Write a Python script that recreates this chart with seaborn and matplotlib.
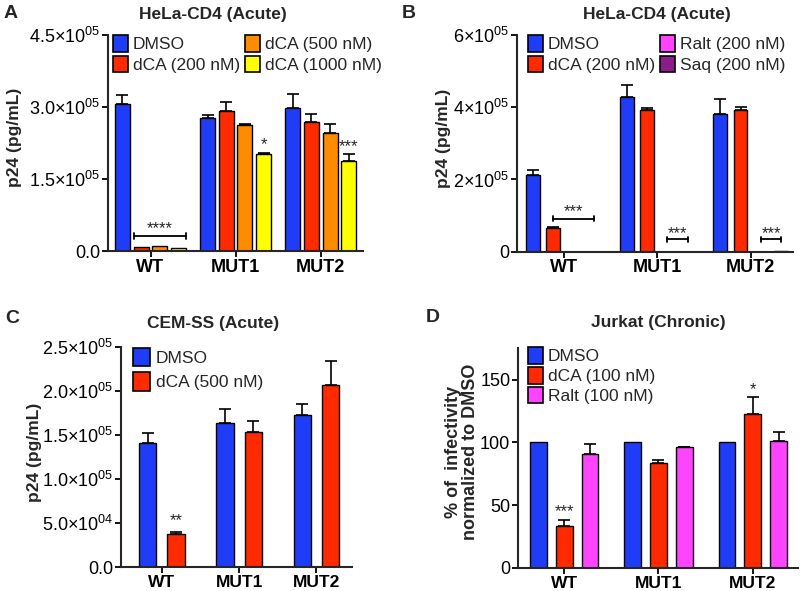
import matplotlib
matplotlib.use("Agg")
import matplotlib.pyplot as plt
from matplotlib.patches import Patch
import seaborn as sns
import pandas as pd

# ---------------- data ----------------
groups = ["WT", "MUT1", "MUT2"]

a_treat = ["DMSO", "dCA (200 nM)", "dCA (500 nM)", "dCA (1000 nM)"]
a_dmso = [3.06e5, 2.77e5, 2.98e5]
a_dca200 = [0.08e5, 2.92e5, 2.68e5]
a_dca500 = [0.10e5, 2.63e5, 2.45e5]
a_dca1000 = [0.07e5, 2.03e5, 1.885e5]
a_err_dmso = [0.19e5, 0.06e5, 0.30e5]
a_err_dca200 = [0.0, 0.18e5, 0.17e5]
a_err_dca500 = [0.0, 0.01e5, 0.20e5]
a_err_dca1000 = [0.0, 0.02e5, 0.13e5]

b_treat = ["DMSO", "dCA (200 nM)", "Ralt (200 nM)", "Saq (200 nM)"]
b_dmso = [2.13e5, 4.27e5, 3.81e5]
b_dca = [0.65e5, 3.91e5, 3.91e5]
b_ralt = [0.0, 0.0, 0.0]
b_saq = [0.0, 0.0, 0.01e5]
b_err_dmso = [0.12e5, 0.33e5, 0.41e5]
b_err_dca = [0.03e5, 0.06e5, 0.09e5]
b_err_ralt = [0.0, 0.0, 0.0]
b_err_saq = [0.0, 0.0, 0.0]

c_treat = ["DMSO", "dCA (500 nM)"]
c_dmso = [1.413e5, 1.634e5, 1.725e5]
c_dca = [0.372e5, 1.535e5, 2.063e5]
c_err_dmso = [0.107e5, 0.156e5, 0.125e5]
c_err_dca = [0.028e5, 0.125e5, 0.277e5]

d_treat = ["DMSO", "dCA (100 nM)", "Ralt (100 nM)"]
d_dmso = [100, 100, 100]
d_dca = [33.3, 83.4, 122.5]
d_ralt = [90.8, 95.9, 101.4]
d_err_dmso = [0, 0, 0]
d_err_dca = [4.5, 2.2, 13.5]
d_err_ralt = [8.0, 0.7, 6.9]

a_ticks = [0, 1.5e5, 3.0e5, 4.5e5]
a_ticklabels = ["0.0", "1.5$\\times$10$^{05}$", "3.0$\\times$10$^{05}$", "4.5$\\times$10$^{05}$"]
b_ticks = [0, 2e5, 4e5, 6e5]
b_ticklabels = ["0", "2$\\times$10$^{05}$", "4$\\times$10$^{05}$", "6$\\times$10$^{05}$"]
c_ticks = [0, 0.5e5, 1.0e5, 1.5e5, 2.0e5, 2.5e5]
c_ticklabels = ["0.0", "5.0$\\times$10$^{04}$", "1.0$\\times$10$^{05}$", "1.5$\\times$10$^{05}$",
                "2.0$\\times$10$^{05}$", "2.5$\\times$10$^{05}$"]
d_ticks = [0, 50, 100, 150]
d_ticklabels = ["0", "50", "100", "150"]

BLUE = "#1F3DF7"
RED = "#FF2A00"
ORANGE = "#FF8C00"
YELLOW = "#FFFF00"
PINK = "#FF44FF"
PURPLE = "#8C1C8C"

# ---------------- style ----------------
sns.set_theme(style="ticks")
plt.rcParams["font.family"] = ["Liberation Sans", "DejaVu Sans"]
plt.rcParams["mathtext.fontset"] = "custom"
plt.rcParams["mathtext.rm"] = "Liberation Sans"
plt.rcParams["mathtext.it"] = "Liberation Sans:italic"
plt.rcParams["mathtext.bf"] = "Liberation Sans:bold"
plt.rcParams["axes.linewidth"] = 1.5

fig = plt.figure(figsize=(8, 5.91), dpi=100)
W, H = 800.0, 591.0


def long_df(treats, vals, errs):
    rows = []
    for t, v, e in zip(treats, vals, errs):
        for g, vv, ee in zip(groups, v, e):
            rows.append({"group": g, "treat": t, "value": vv, "err": ee})
    return pd.DataFrame(rows)


def panel(rect, treats, vals, errs, colors, width, gap, xlim, ylim, ticks, ticklabels, xsize=13):
    ax = fig.add_axes(rect)
    df = long_df(treats, vals, errs)
    sns.barplot(data=df, x="group", y="value", hue="treat", order=groups,
                hue_order=treats, palette=colors, width=width, gap=gap,
                edgecolor="black", linewidth=1.0, errorbar=None, legend=False,
                saturation=1, ax=ax)
    for cont, e in zip(ax.containers, errs):
        for bar, ee in zip(cont, e):
            if ee > 0:
                xc = bar.get_x() + bar.get_width() / 2
                ax.errorbar(xc, bar.get_height(), yerr=[[0], [ee]], fmt="none",
                            ecolor="black", elinewidth=1.2, capsize=4.5, capthick=1.2)
    ax.set_xlim(*xlim)
    ax.set_ylim(*ylim)
    ax.set_yticks(ticks)
    ax.set_yticklabels(ticklabels, fontsize=13)
    ax.set_xlabel("")
    ax.set_ylabel("")
    for lab in ax.get_xticklabels():
        lab.set_fontweight("bold")
        lab.set_fontsize(xsize)
    ax.tick_params(axis="both", direction="out", length=4, width=1.3, colors="black", pad=1.5)
    sns.despine(ax=ax)
    return ax


def centre(bar):
    return bar.get_x() + bar.get_width() / 2


def bracket(ax, x0, x1, y, h, text, ty):
    ax.plot([x0, x1], [y, y], color="black", lw=1.3)
    ax.plot([x0, x0], [y - h, y + h], color="black", lw=1.3)
    ax.plot([x1, x1], [y - h, y + h], color="black", lw=1.3)
    ax.text((x0 + x1) / 2, ty, text, ha="center", va="center", fontsize=12)


def legend(ax, labels, colors, x_px, top_px, ncol, lspace=0.2, hl=0.85, hh=1.1):
    handles = [Patch(facecolor=c, edgecolor="black", lw=1.2) for c in colors]
    ax.legend(handles, labels, ncol=ncol, frameon=False, fontsize=12.5, loc="upper left",
              bbox_to_anchor=(x_px / W, 1 - top_px / H), bbox_transform=fig.transFigure,
              handlelength=hl, handleheight=hh, handletextpad=0.3, columnspacing=0.3,
              labelspacing=lspace, borderpad=0, borderaxespad=0)


# ---------------- Panel A ----------------
axA = panel([0.135, 0.575, 0.319, 0.366], a_treat,
            [a_dmso, a_dca200, a_dca500, a_dca1000],
            [a_err_dmso, a_err_dca200, a_err_dca500, a_err_dca1000],
            [BLUE, RED, ORANGE, YELLOW], 0.88, 0.2, (-0.5, 2.5), (0, 4.5e5),
            a_ticks, a_ticklabels)
legend(axA, a_treat, [BLUE, RED, ORANGE, YELLOW], 113, 35, 2)
cA = axA.containers
bracket(axA, cA[1][0].get_x(), cA[3][0].get_x() + cA[3][0].get_width(), 0.31e5, 0.06e5,
        "****", 0.47e5)
axA.text(centre(cA[3][1]), 2.22e5, "*", ha="center", va="center", fontsize=12)
axA.text(centre(cA[3][2]), 2.18e5, "***", ha="center", va="center", fontsize=12)

# ---------------- Panel B ----------------
axB = panel([0.646, 0.574, 0.345, 0.367], b_treat,
            [b_dmso, b_dca, b_ralt, b_saq],
            [b_err_dmso, b_err_dca, b_err_ralt, b_err_saq],
            [BLUE, RED, PINK, PURPLE], 0.87, 0.32, (-0.5, 2.45), (0, 6e5),
            b_ticks, b_ticklabels)
legend(axB, b_treat, [BLUE, RED, PINK, PURPLE], 528, 35, 2)
cB = axB.containers
bracket(axB, centre(cB[1][0]), centre(cB[3][0]), 0.92e5, 0.08e5, "***", 1.1e5)
bracket(axB, centre(cB[2][1]), centre(cB[3][1]), 0.34e5, 0.08e5, "***", 0.5e5)
bracket(axB, centre(cB[2][2]), centre(cB[3][2]), 0.34e5, 0.08e5, "***", 0.5e5)

# ---------------- Panel C ----------------
axC = panel([0.151, 0.0406, 0.289, 0.3724], c_treat,
            [c_dmso, c_dca], [c_err_dmso, c_err_dca],
            [BLUE, RED], 0.73, 0.39, (-0.53, 2.46), (0, 2.5e5),
            c_ticks, c_ticklabels, xsize=12.5)
legend(axC, c_treat, [BLUE, RED], 133, 348, 1, lspace=0.35, hl=1.0, hh=1.25)
cC = axC.containers
axC.text(centre(cC[1][0]), 0.53e5, "**", ha="center", va="center", fontsize=12)

# ---------------- Panel D ----------------
axD = panel([0.6475, 0.039, 0.35, 0.372], d_treat,
            [d_dmso, d_dca, d_ralt], [d_err_dmso, d_err_dca, d_err_ralt],
            [BLUE, RED, PINK], 0.82, 0.35, (-0.49, 2.48), (0, 175),
            d_ticks, d_ticklabels, xsize=12.5)
legend(axD, d_treat, [BLUE, RED, PINK], 528, 347, 1, lspace=0.15)
cD = axD.containers
axD.text(centre(cD[1][0]), 45, "***", ha="center", va="center", fontsize=12)
axD.text(centre(cD[1][2]), 142, "*", ha="center", va="center", fontsize=12)

# ---------------- labels / titles ----------------
fig.text(0.266, 0.975, "HeLa-CD4 (Acute)", ha="center", va="center", fontsize=12.5, fontweight="bold")
fig.text(0.821, 0.975, "HeLa-CD4 (Acute)", ha="center", va="center", fontsize=12.5, fontweight="bold")
fig.text(0.266, 0.453, "CEM-SS (Acute)", ha="center", va="center", fontsize=12.5, fontweight="bold")
fig.text(0.8225, 0.455, "Jurkat (Chronic)", ha="center", va="center", fontsize=12.5, fontweight="bold")

fig.text(0.004, 0.992, "A", ha="left", va="top", fontsize=14, fontweight="bold")
fig.text(0.502, 0.992, "B", ha="left", va="top", fontsize=14, fontweight="bold")
fig.text(0.006, 0.475, "C", ha="left", va="top", fontsize=14, fontweight="bold")
fig.text(0.532, 0.478, "D", ha="left", va="top", fontsize=14, fontweight="bold")

fig.text(0.0175, 0.768, "p24 (pg/mL)", rotation=90, ha="center", va="center", fontsize=12.5, fontweight="bold")
fig.text(0.554, 0.766, "p24 (pg/mL)", rotation=90, ha="center", va="center", fontsize=12.5, fontweight="bold")
fig.text(0.0425, 0.235, "p24 (pg/mL)", rotation=90, ha="center", va="center", fontsize=12.5, fontweight="bold")
fig.text(0.577, 0.235, "% of  infectivity\nnormalized to DMSO", rotation=90, ha="center",
         va="center", fontsize=13, fontweight="bold", linespacing=1.0)

fig.savefig("out.png", dpi=100)
